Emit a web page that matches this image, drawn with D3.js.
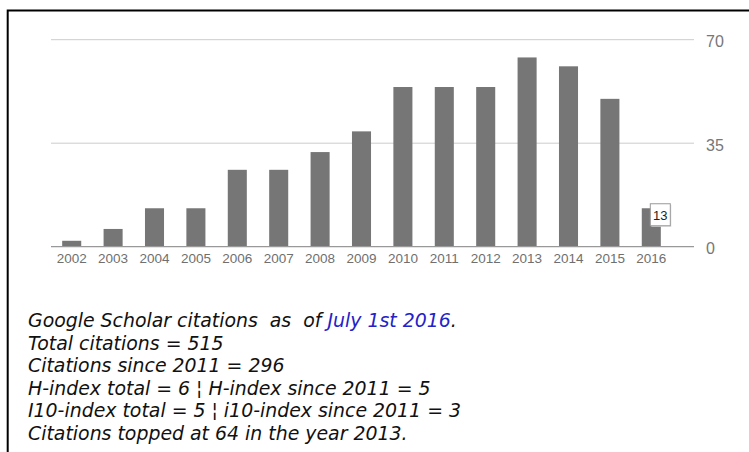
<!DOCTYPE html>
<html>
<head>
<meta charset="utf-8">
<script src="https://cdn.jsdelivr.net/npm/d3@7.9.0/dist/d3.min.js"></script>
<style>
  html, body { margin: 0; padding: 0; background: #fff; }
  svg { display: block; }
  .year { font-family: Arial, "Liberation Sans", sans-serif; font-size: 13.5px; fill: #6f6f6f; }
  .ytick { font-family: Arial, "Liberation Sans", sans-serif; font-size: 16px; fill: #777; }
  .note { font-family: Verdana, "DejaVu Sans", sans-serif; font-style: italic; font-size: 18.9px; fill: #111; white-space: pre; }
</style>
</head>
<body>
<script>
// ─────────── DATA ───────────
const years = ["2002", "2003", "2004", "2005", "2006", "2007", "2008", "2009",
               "2010", "2011", "2012", "2013", "2014", "2015", "2016"];
const citations = [2, 6, 13, 13, 26, 26, 32, 39, 54, 54, 54, 64, 61, 50, 13];
const yTicks = [0, 35, 70];
const annotated = "2016";   // bar that shows its value in a little box

const noteLines = [
  [["Google Scholar citations  as  of ", "#111"], ["July 1st 2016", "#2323c8"], [".", "#111"]],
  [["Total citations = 515", "#111"]],
  [["Citations since 2011 = 296", "#111"]],
  [["H-index total = 6 \u00a6 H-index since 2011 = 5", "#111"]],
  [["I10-index total = 5 \u00a6 i10-index since 2011 = 3", "#111"]],
  [["Citations topped at 64 in the year 2013.", "#111"]]
];

// ─────────── SETUP ───────────
const W = 749, H = 452;
const svg = d3.select("body").append("svg").attr("width", W).attr("height", H);

const x = d3.scaleBand().domain(years).range([51, 672]).paddingInner(0.54).paddingOuter(0.27);
const y = d3.scaleLinear().domain([0, 70]).range([246.7, 39.7]);
const gridRight = 694;

// frame (only top + left edges are visible in the crop)
svg.append("path")
  .attr("d", `M7.7,${H} V10.5 H${W}`)
  .attr("fill", "none").attr("stroke", "#000").attr("stroke-width", 2);

// gridlines + right axis labels
yTicks.forEach((t) => {
  if (t !== 0) {
    svg.append("line")
      .attr("x1", 51).attr("x2", gridRight)
      .attr("y1", y(t)).attr("y2", y(t))
      .attr("stroke", "#ccc").attr("stroke-width", 1);
  }
  svg.append("text").attr("class", "ytick")
    .attr("x", 706).attr("y", y(t) + 7.3)
    .text(t);
});

// bars
svg.selectAll("rect.bar")
  .data(years)
  .join("rect")
  .attr("class", "bar")
  .attr("x", (d) => x(d))
  .attr("width", x.bandwidth())
  .attr("y", (d, i) => y(citations[i]))
  .attr("height", (d, i) => y(0) - y(citations[i]))
  .attr("fill", "#767676");

// baseline
svg.append("line")
  .attr("x1", 51).attr("x2", gridRight)
  .attr("y1", y(0)).attr("y2", y(0))
  .attr("stroke", "#999").attr("stroke-width", 1.3);

// year labels
svg.selectAll("text.year")
  .data(years)
  .join("text")
  .attr("class", "year")
  .attr("x", (d) => x(d) + x.bandwidth() / 2)
  .attr("y", 262.5)
  .attr("text-anchor", "middle")
  .text((d) => d);

// value box on the last bar
const ai = years.indexOf(annotated);
const bx = x(annotated) + x.bandwidth() / 2 - 1;
const by = y(citations[ai]) - 4.5;
svg.append("rect")
  .attr("x", bx + 1).attr("y", by + 1).attr("width", 20).attr("height", 22)
  .attr("fill", "#ddd");
svg.append("rect")
  .attr("x", bx).attr("y", by).attr("width", 20).attr("height", 22)
  .attr("fill", "#fff").attr("stroke", "#999").attr("stroke-width", 1);
svg.append("text")
  .attr("x", bx + 10).attr("y", by + 16)
  .attr("text-anchor", "middle")
  .attr("font-family", "Arial, 'Liberation Sans', sans-serif")
  .attr("font-size", 13).attr("fill", "#222")
  .text(citations[ai]);

// ─────────── NOTE TEXT ───────────
noteLines.forEach((parts, i) => {
  const t = svg.append("text").attr("class", "note")
    .attr("x", 28).attr("y", 327 + i * 22.5);
  parts.forEach(([s, c]) => t.append("tspan").attr("fill", c).text(s));
});
</script>
</body>
</html>
